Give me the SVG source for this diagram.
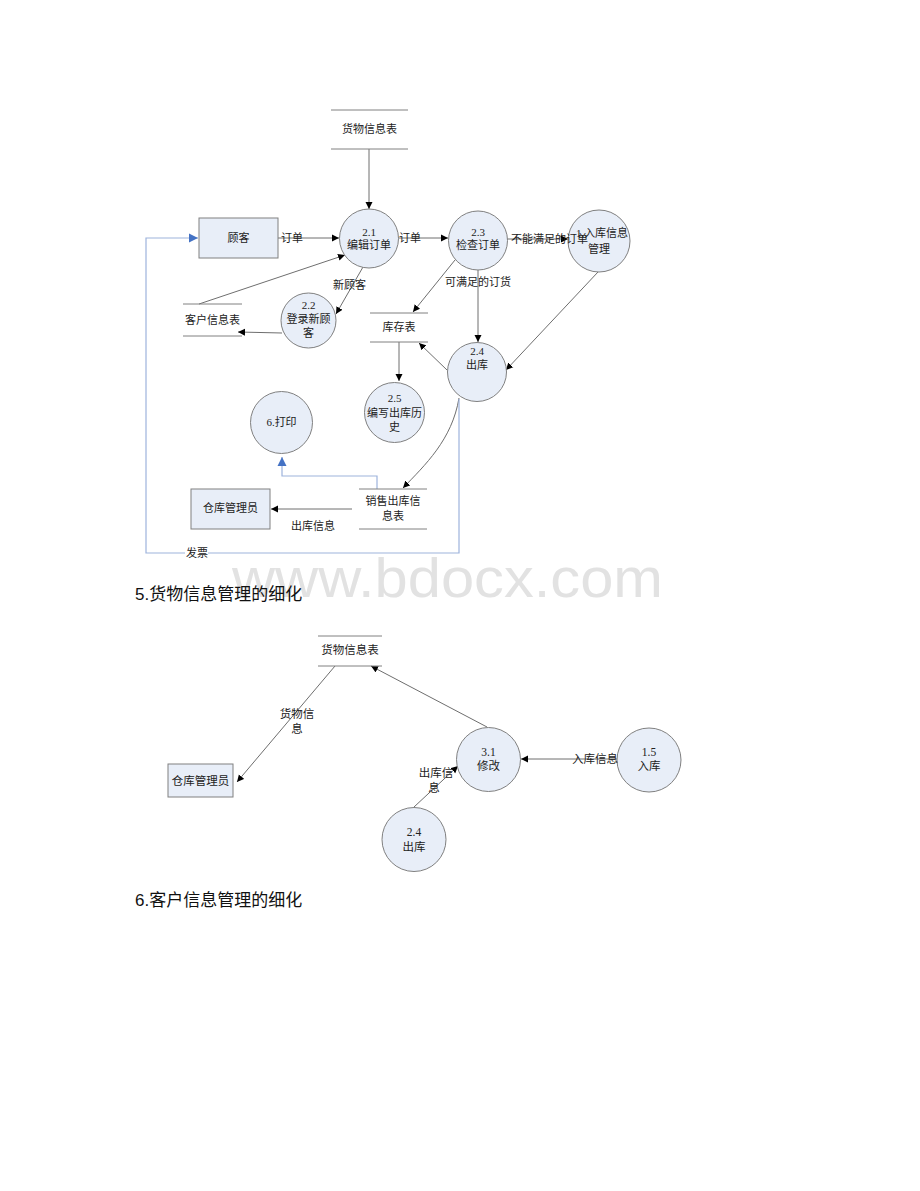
<svg xmlns="http://www.w3.org/2000/svg" width="920" height="1191" viewBox="0 0 920 1191">
<defs>
<marker id="ah" markerWidth="8" markerHeight="8" refX="7" refY="4" orient="auto" markerUnits="userSpaceOnUse"><path d="M0,0.5 L7,4 L0,7.5 Z" fill="#000"/></marker>
<marker id="ahb" markerWidth="10" markerHeight="10" refX="9" refY="5" orient="auto" markerUnits="userSpaceOnUse"><path d="M0,0.5 L9,5 L0,9.5 Z" fill="#4472c4"/></marker>
</defs>
<style>
.n{fill:#e8eef8;stroke:#808080;stroke-width:1}
.st{stroke:#808080;stroke-width:1}
.c{fill:none;stroke:#6e6e6e;stroke-width:1;marker-end:url(#ah)}
.b{fill:none;stroke:#9db3dc;stroke-width:1.2}
.t{font-family:"Liberation Serif","Noto Sans CJK SC",serif;font-size:11px;fill:#222;text-anchor:middle}
.tl{font-family:"Liberation Serif","Noto Sans CJK SC",serif;font-size:11px;fill:#222}
.t2{font-family:"Liberation Serif","Noto Sans CJK SC",serif;font-size:11.5px;fill:#222;text-anchor:middle}
.h{font-family:"Liberation Sans","Noto Sans CJK SC",sans-serif;font-size:17px;fill:#111}
.wm{font-family:"Liberation Sans",sans-serif;font-size:56px;fill:#e2e2e2}
</style>
<rect width="920" height="1191" fill="#fff"/>
<text class="wm" x="232" y="597" textLength="431" lengthAdjust="spacingAndGlyphs">www.bdocx.com</text>

<g id="connectors">
<path class="c" d="M369,149 L369,209"/>
<path class="c" d="M278,238 L339,238"/>
<path class="c" d="M398,238 L448,238"/>
<path class="c" d="M507,239 L568,239"/>
<path class="c" d="M478,270 L478,342"/>
<path class="c" d="M455,260 L413,312"/>
<path class="c" d="M598,272 L506,370"/>
<path class="c" d="M447,370 L419,343"/>
<path class="c" d="M399,342 L399,381"/>
<path class="c" d="M459,398 C452,440 425,465 403,488"/>
<path class="b" d="M377,489 L377,476 L282,476 L282,457" marker-end="url(#ahb)"/>
<path class="c" d="M352,509 L271,509"/>
<path class="b" d="M459,399 L459,553 L146,553 L146,238 L198,238" marker-end="url(#ahb)"/>
<path class="c" d="M199,304 L345,255"/>
<path class="c" d="M363,267 L336,314"/>
<path class="c" d="M282,333 L238,332"/>
<path class="c" d="M335,666 L237,782"/>
<path class="c" d="M487,727 L371,666"/>
<path class="c" d="M617,759 L521,759"/>
<path class="c" d="M414,807 L458,766"/>
</g>

<g id="store-goods">
<line class="st" x1="331" y1="110" x2="408" y2="110"/>
<line class="st" x1="331" y1="149" x2="408" y2="149"/>
<text class="t" x="369.5" y="133">货物信息表</text>
</g>
<g id="customer">
<rect class="n" x="199" y="218" width="79" height="40"/>
<text class="t" x="238.5" y="242">顾客</text>
</g>
<g id="p21">
<circle class="n" cx="369" cy="238.5" r="29.5"/>
<text class="t" x="369" y="236">2.1</text>
<text class="t" x="369" y="249">编辑订单</text>
</g>
<g id="p23">
<circle class="n" cx="478" cy="240.5" r="29.5"/>
<text class="t" x="478" y="236">2.3</text>
<text class="t" x="478" y="249">检查订单</text>
</g>
<g id="p1">
<circle class="n" cx="599" cy="241" r="31"/>
<text class="t" x="602" y="237">1.入库信息</text>
<text class="t" x="599" y="253">管理</text>
</g>
<g id="store-customer">
<line class="st" x1="183" y1="304" x2="242" y2="304"/>
<line class="st" x1="183" y1="336" x2="242" y2="336"/>
<text class="t" x="212.5" y="324">客户信息表</text>
</g>
<g id="p22">
<circle class="n" cx="308.5" cy="320.5" r="27.5"/>
<text class="t" x="308.5" y="309">2.2</text>
<text class="t" x="308.5" y="323">登录新顾</text>
<text class="t" x="308.5" y="337">客</text>
</g>
<g id="store-stock">
<line class="st" x1="370" y1="313" x2="428" y2="313"/>
<line class="st" x1="370" y1="342" x2="428" y2="342"/>
<text class="t" x="399" y="331">库存表</text>
</g>
<g id="p24">
<circle class="n" cx="477" cy="372" r="29.5"/>
<text class="t" x="477" y="355">2.4</text>
<text class="t" x="477" y="369">出库</text>
</g>
<g id="p25">
<circle class="n" cx="394.5" cy="412.5" r="30"/>
<text class="t" x="394.5" y="402">2.5</text>
<text class="t" x="394.5" y="417">编写出库历</text>
<text class="t" x="394.5" y="431">史</text>
</g>
<g id="p6">
<circle class="n" cx="281.5" cy="422.5" r="31"/>
<text class="t" x="281.5" y="426">6.打印</text>
</g>
<g id="store-sales">
<line class="st" x1="359" y1="489" x2="427" y2="489"/>
<line class="st" x1="359" y1="529" x2="427" y2="529"/>
<text class="t" x="393" y="505">销售出库信</text>
<text class="t" x="393" y="520">息表</text>
</g>
<g id="keeper">
<rect class="n" x="191" y="489" width="79" height="40"/>
<text class="t" x="230.5" y="512">仓库管理员</text>
</g>
<text id="h5" class="h" x="135" y="600">5.货物信息管理的细化</text>

<g id="store-goods2">
<line class="st" x1="318" y1="636" x2="382" y2="636"/>
<line class="st" x1="318" y1="666" x2="382" y2="666"/>
<text class="t2" x="350" y="654">货物信息表</text>
</g>
<g id="keeper2">
<rect class="n" x="168" y="764" width="65" height="33"/>
<text class="t2" x="200.5" y="785">仓库管理员</text>
</g>
<g id="p31">
<circle class="n" cx="488.5" cy="759.5" r="32"/>
<text class="t2" x="488.5" y="756">3.1</text>
<text class="t2" x="488.5" y="770">修改</text>
</g>
<g id="p15">
<circle class="n" cx="649" cy="760" r="32"/>
<text class="t2" x="649" y="756">1.5</text>
<text class="t2" x="649" y="770">入库</text>
</g>
<g id="p24b">
<circle class="n" cx="414" cy="839.5" r="32"/>
<text class="t2" x="414" y="836">2.4</text>
<text class="t2" x="414" y="851">出库</text>
</g>
<text id="h6" class="h" x="135" y="906">6.客户信息管理的细化</text>

<g id="connector-labels">
<text class="tl" x="281" y="242">订单</text>
<text class="tl" x="399" y="242">订单</text>
<text class="tl" x="511" y="243">不能满足的订单</text>
<text class="tl" x="445" y="286">可满足的订货</text>
<text class="tl" x="333" y="289">新顾客</text>
<text class="tl" x="291" y="530">出库信息</text>
<rect x="185" y="546" width="23" height="13" fill="#fff"/>
<text class="tl" x="186" y="557">发票</text>
<text class="t2" x="297" y="718">货物信</text>
<text class="t2" x="297" y="733">息</text>
<text class="t2" x="595" y="763">入库信息</text>
<text class="t2" x="436" y="777">出库信</text>
<text class="t2" x="434" y="792">息</text>
</g>
</svg>
